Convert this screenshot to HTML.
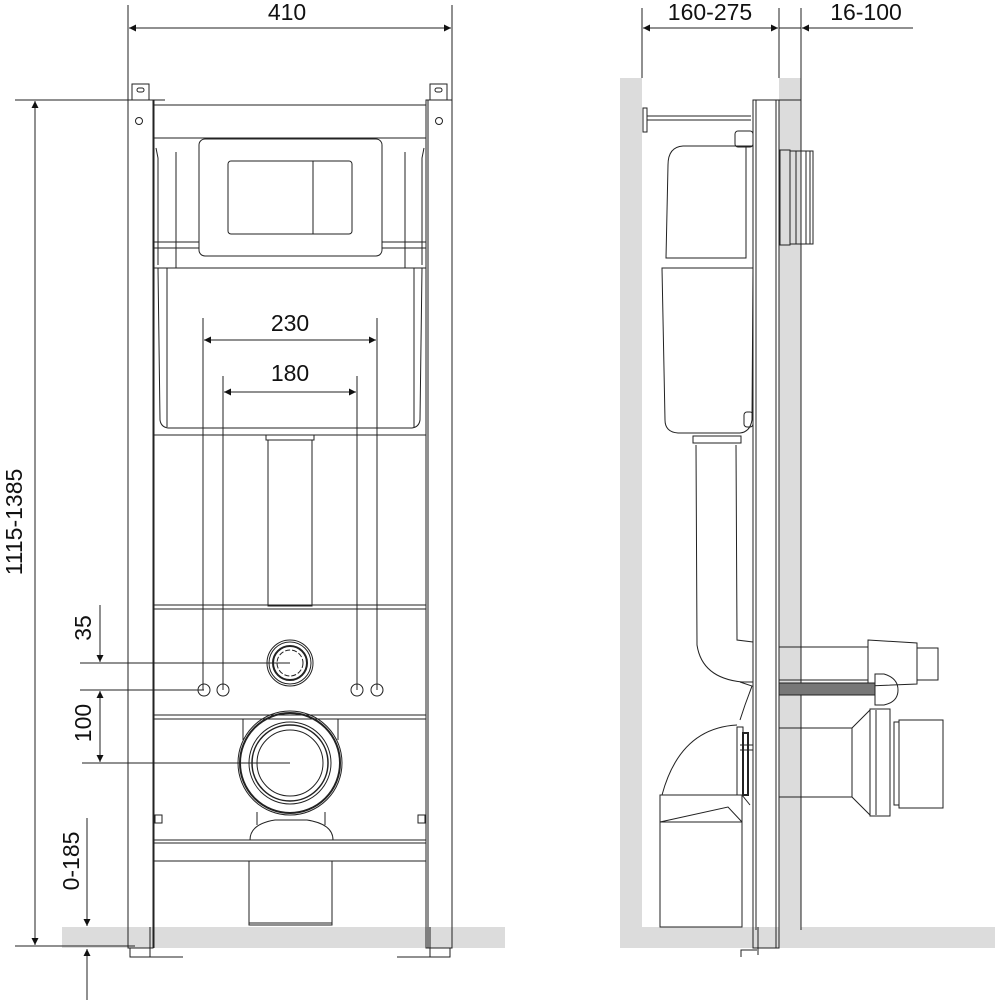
<!DOCTYPE html>
<html><head><meta charset="utf-8"><style>html,body{margin:0;padding:0;background:#fff}svg{display:block}text{font-family:"Liberation Sans",sans-serif;fill:#111}</style></head>
<body>
<svg width="1000" height="1000" viewBox="0 0 1000 1000" xmlns="http://www.w3.org/2000/svg">
<defs>
<marker id="a" viewBox="0 0 10 10" refX="10" refY="5" markerWidth="11" markerHeight="7" orient="auto-start-reverse" markerUnits="userSpaceOnUse"><path d="M0,0L10,5L0,10z" fill="#111"/></marker>
</defs>
<!-- grey floor/walls -->
<rect x="62" y="927" width="443" height="21" fill="#dcdcdc"/>
<rect x="620" y="927" width="375" height="21" fill="#dcdcdc"/>
<rect x="620" y="78" width="22" height="852" fill="#dcdcdc"/>
<rect x="779" y="78" width="22" height="852" fill="#dcdcdc"/>

<g fill="none" stroke="#222" stroke-width="1">
<!-- LEFT VIEW dims -->
<line x1="128" y1="5" x2="128" y2="100"/><line x1="452" y1="5" x2="452" y2="100"/>
<line x1="129" y1="28" x2="451" y2="28" marker-start="url(#a)" marker-end="url(#a)"/>
<line x1="15" y1="100" x2="165" y2="100"/>
<line x1="35" y1="101" x2="35" y2="945" marker-start="url(#a)" marker-end="url(#a)"/>
<line x1="15" y1="946" x2="135" y2="946"/>
<line x1="80" y1="663" x2="290" y2="663"/>
<line x1="80" y1="690" x2="204" y2="690"/>
<line x1="82" y1="763" x2="290" y2="763"/>
<line x1="100" y1="605" x2="100" y2="662" marker-end="url(#a)"/>
<line x1="100" y1="691" x2="100" y2="762" marker-start="url(#a)" marker-end="url(#a)"/>
<line x1="87" y1="818" x2="87" y2="926" marker-end="url(#a)"/>
<line x1="87" y1="1000" x2="87" y2="949" marker-end="url(#a)"/>
<line x1="203" y1="318" x2="203" y2="690"/><line x1="377" y1="318" x2="377" y2="690"/>
<line x1="204" y1="340" x2="376" y2="340" marker-start="url(#a)" marker-end="url(#a)"/>
<line x1="223" y1="376" x2="223" y2="690"/><line x1="357" y1="376" x2="357" y2="690"/>
<line x1="224" y1="392" x2="356" y2="392" marker-start="url(#a)" marker-end="url(#a)"/>

<!-- frame posts -->
<rect x="128" y="100" width="25" height="848"/><line x1="154" y1="100" x2="154" y2="948"/>
<rect x="426" y="100" width="26" height="848"/><line x1="428" y1="100" x2="428" y2="948"/>
<rect x="132" y="84" width="17" height="16"/><rect x="137" y="88" width="7" height="4" rx="2"/>
<rect x="430" y="84" width="17" height="16"/><rect x="435" y="88" width="7" height="4" rx="2"/>
<line x1="153" y1="105" x2="426" y2="105"/>
<circle cx="139" cy="121" r="3.5"/><circle cx="439" cy="121" r="3.5"/>
<polyline points="130,948 130,957 183,957"/><polyline points="450,948 450,957 397,957"/>
<line x1="150" y1="927" x2="150" y2="957"/><line x1="430" y1="927" x2="430" y2="957"/>
<!-- tank upper -->
<line x1="154" y1="138" x2="426" y2="138"/>
<rect x="199" y="139" width="183" height="117" rx="6"/>
<rect x="228" y="161" width="124" height="73" rx="3"/><line x1="313" y1="161" x2="313" y2="234"/>
<line x1="176" y1="152" x2="176" y2="268"/><line x1="405" y1="152" x2="405" y2="268"/>
<path d="M156,148 L158,158 L158,265"/><path d="M424,148 L422,158 L422,265"/>
<line x1="154" y1="242" x2="199" y2="242"/><line x1="154" y1="248" x2="199" y2="248"/>
<line x1="382" y1="242" x2="426" y2="242"/><line x1="382" y1="248" x2="426" y2="248"/>
<line x1="154" y1="268" x2="426" y2="268"/>
<path d="M158,268 L160,420 Q161,427 168,428 L412,428 Q419,427 420,420 L422,268"/>
<line x1="167" y1="268" x2="167" y2="427"/><line x1="414" y1="268" x2="414" y2="427"/>
<line x1="154" y1="435" x2="426" y2="435"/>
<rect x="268" y="440" width="44" height="166"/><rect x="266" y="435" width="48" height="5"/>
<!-- lower panel -->
<line x1="154" y1="605" x2="426" y2="605"/><line x1="154" y1="609" x2="426" y2="609"/>
<line x1="154" y1="715" x2="426" y2="715"/><line x1="154" y1="719" x2="426" y2="719"/>
<circle cx="290" cy="663" r="23"/><circle cx="290" cy="663" r="21"/><circle cx="290" cy="663" r="17" stroke-width="2"/><circle cx="290" cy="663" r="13" stroke-dasharray="5 2"/>
<circle cx="204" cy="690" r="6"/><circle cx="223" cy="690" r="6"/><circle cx="357" cy="690" r="6"/><circle cx="377" cy="690" r="6"/>
<line x1="243" y1="719" x2="243" y2="740"/><line x1="338" y1="719" x2="338" y2="740"/>
<circle cx="290" cy="763" r="52"/><circle cx="290" cy="763" r="50" stroke-width="2"/><circle cx="290" cy="763" r="41"/><circle cx="290" cy="763" r="38" stroke-width="1.5"/><circle cx="290" cy="763" r="33"/>
<line x1="257" y1="812" x2="257" y2="825"/><line x1="325" y1="812" x2="325" y2="825"/>
<path d="M250,840 Q250,824 275,820 L307,820 Q333,824 333,840"/>
<line x1="154" y1="840" x2="426" y2="840"/><line x1="154" y1="843" x2="426" y2="843"/><line x1="154" y1="861" x2="426" y2="861"/>
<rect x="249" y="861" width="83" height="64"/><line x1="249" y1="923" x2="332" y2="923"/>
<rect x="155" y="815" width="7" height="8"/><rect x="418" y="815" width="7" height="8"/>

<!-- RIGHT VIEW dims -->
<line x1="642" y1="8" x2="642" y2="78"/><line x1="779" y1="8" x2="779" y2="78"/><line x1="801" y1="8" x2="801" y2="78"/>
<line x1="643" y1="28" x2="778" y2="28" marker-start="url(#a)" marker-end="url(#a)"/>
<line x1="779" y1="28" x2="801" y2="28"/>
<line x1="913" y1="28" x2="802" y2="28" marker-end="url(#a)"/>
<!-- frame -->
<rect x="753" y="100" width="26" height="848"/><line x1="756" y1="100" x2="756" y2="930"/><line x1="776" y1="100" x2="776" y2="948"/>
<line x1="779" y1="100" x2="801" y2="100"/>
<line x1="801" y1="78" x2="801" y2="930"/>
<polyline points="741,957 741,950 757,950"/><line x1="758" y1="927" x2="758" y2="955"/>
<!-- rod -->
<line x1="647" y1="116" x2="751" y2="116"/><line x1="647" y1="120" x2="751" y2="120"/><rect x="643" y="108" width="4" height="24"/>
<rect x="735" y="131" width="18" height="16" rx="3"/>
<!-- cistern -->
<path d="M753,146 L683,146 Q668,147 668,165 L666,258 L746,258 L746,146"/>
<path d="M662,268 L753,268 L752,420 Q750,432 740,433 L678,433 Q665,432 665,420 Z"/>
<rect x="744" y="412" width="9" height="15" rx="3"/>
<rect x="693" y="436" width="48" height="7"/>
<!-- pipe -->
<path d="M696,445 L697,645 Q702,678 742,682 L753,682"/>
<path d="M736,445 L737,640 L753,642"/>
<path d="M740,682 L752,686 L745,705 L740,720"/>
<!-- flush panel front -->
<rect x="780" y="150" width="10" height="95"/><rect x="790" y="151" width="23" height="93"/>
<line x1="796" y1="151" x2="796" y2="244"/><line x1="801" y1="151" x2="801" y2="244"/><line x1="806" y1="151" x2="806" y2="244"/><line x1="810" y1="151" x2="810" y2="244"/>
<!-- water inlet -->
<line x1="779" y1="647" x2="868" y2="647"/><line x1="779" y1="680" x2="868" y2="680"/>
<path d="M868,640 L917,643 L917,684 L868,686 Z"/><rect x="917" y="648" width="21" height="32"/>
<rect x="779" y="683" width="96" height="12" fill="#777"/>
<path d="M875,674 L884,674 Q898,678 898,690 Q898,702 884,705 L875,705 Z"/>
<!-- drain -->
<line x1="779" y1="728" x2="852" y2="728"/><line x1="779" y1="797" x2="852" y2="797"/>
<path d="M852,728 L870,710 L870,815 L852,797 Z"/><rect x="870" y="709" width="20" height="107"/><line x1="876" y1="710" x2="876" y2="815"/>
<rect x="894" y="722" width="5" height="83"/><rect x="899" y="720" width="44" height="88"/>
<!-- elbow -->
<path d="M737,725 Q680,728 662,795"/>
<rect x="737" y="727" width="6" height="68"/><rect x="743" y="733" width="5" height="62" stroke-width="2"/>
<line x1="740" y1="745" x2="753" y2="745"/><line x1="740" y1="750" x2="753" y2="750"/>
<rect x="660" y="795" width="82" height="132"/>
<path d="M660,822 L728,807 L742,822 M660,822 L742,822"/>
<path d="M742,795 L750,805"/>
</g>
<text x="287" y="20" font-size="23" text-anchor="middle">410</text>
<text x="290" y="331" font-size="23" text-anchor="middle">230</text>
<text x="290" y="381" font-size="23" text-anchor="middle">180</text>
<text x="710" y="20" font-size="23" text-anchor="middle">160-275</text>
<text x="866" y="20" font-size="23" text-anchor="middle">16-100</text>
<text transform="translate(22,522) rotate(-90)" font-size="23" text-anchor="middle">1115-1385</text>
<text transform="translate(91,628) rotate(-90)" font-size="23" text-anchor="middle">35</text>
<text transform="translate(91,723) rotate(-90)" font-size="23" text-anchor="middle">100</text>
<text transform="translate(79,861) rotate(-90)" font-size="23" text-anchor="middle">0-185</text>
</svg>
</body></html>
